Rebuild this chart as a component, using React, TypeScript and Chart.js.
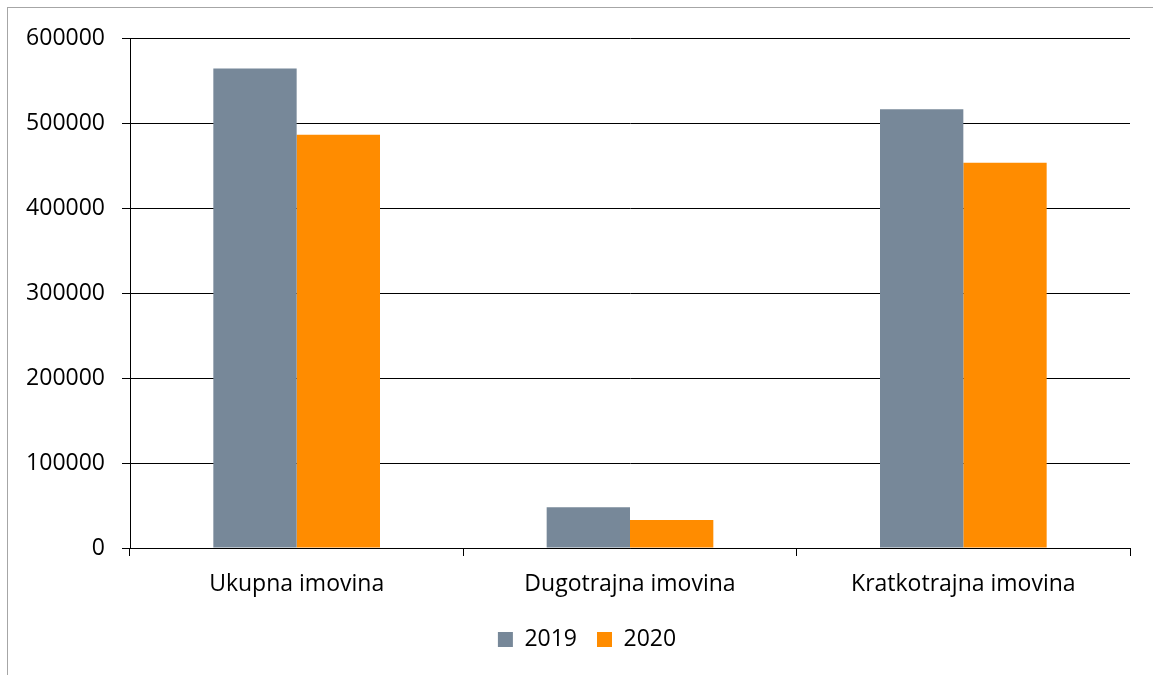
import React, { useEffect, useRef } from "react";
import { Chart, registerables } from "chart.js";

Chart.register(...registerables);

const categories = ["Ukupna imovina", "Dugotrajna imovina", "Kratkotrajna imovina"];
const values2019 = [565000, 48000, 517000];
const values2020 = [487000, 33000, 454000];
const seriesLabels = ["2019", "2020"];
const yTicks = [0, 100000, 200000, 300000, 400000, 500000, 600000];

const FONT = "'Open Sans', sans-serif";

const legendShift = {
  id: "legendShift",
  afterLayout(chart: any) {
    const lg = chart.legend;
    if (!lg) return;
    lg.left += 18;
    lg.right += 18;
    lg.top -= 14;
    lg.bottom -= 14;
  },
};

export default function App() {
  const ref = useRef<HTMLCanvasElement | null>(null);
  useEffect(() => {
    if (!ref.current) return;
    const chart = new Chart(ref.current, {
      type: "bar",
      data: {
        labels: categories,
        datasets: [
          {
            label: seriesLabels[0],
            data: values2019,
            backgroundColor: "#778899",
            categoryPercentage: 0.5,
            barPercentage: 1,
          },
          {
            label: seriesLabels[1],
            data: values2020,
            backgroundColor: "#FF8C00",
            categoryPercentage: 0.5,
            barPercentage: 1,
          },
        ],
      },
      plugins: [legendShift],
      options: {
        animation: false,
        responsive: false,
        maintainAspectRatio: false,
        layout: { padding: { left: 0, right: 23, top: 29, bottom: 0 } },
        plugins: {
          tooltip: { enabled: false },
          legend: {
            position: "bottom",
            labels: {
              boxWidth: 15,
              boxHeight: 15,
              padding: 20,
              color: "#000",
              font: { family: FONT, size: 23 },
            },
          },
        },
        scales: {
          x: {
            grid: {
              display: true,
              drawOnChartArea: false,
              drawTicks: true,
              tickLength: 8,
              color: "#000",
              offset: true,
            },
            border: { color: "#000", width: 1 },
            ticks: {
              color: "#000",
              padding: 15,
              font: { family: FONT, size: 23 },
              maxRotation: 0,
            },
            afterFit: (s: any) => {
              s.height = 74;
            },
          },
          y: {
            min: 0,
            max: yTicks[yTicks.length - 1],
            afterBuildTicks: (s: any) => {
              s.ticks = yTicks.map((v) => ({ value: v }));
            },
            grid: { color: "#000", lineWidth: 1, tickLength: 8, drawTicks: true },
            border: { color: "#000", width: 1 },
            ticks: {
              color: "#000",
              padding: 17,
              font: { family: FONT, size: 23 },
              callback: (v: any) => String(v),
            },
            afterFit: (s: any) => {
              s.width = 122;
            },
          },
        },
      },
    });
    return () => chart.destroy();
  }, []);

  return (
    <div
      style={{
        position: "absolute",
        left: 7,
        top: 7,
        width: 1146,
        height: 668,
        borderLeft: "1px solid #a6a6a6",
        borderTop: "1px solid #a6a6a6",
        boxSizing: "border-box",
        background: "#fff",
      }}
    >
      <canvas ref={ref} width={1145} height={667} style={{ display: "block", width: 1145, height: 667 }} />
    </div>
  );
}
